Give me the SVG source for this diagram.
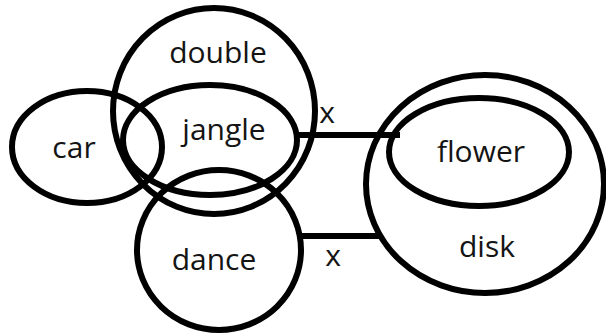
<svg xmlns="http://www.w3.org/2000/svg" width="606" height="333" viewBox="0 0 606 333">
<style>
.n{fill:none;stroke:#000;stroke-width:6}
.t{font-family:"Open Sans","Liberation Sans",sans-serif;font-size:30px;fill:#141414;text-anchor:middle}
.c{stroke:#000;stroke-width:6;fill:none}
</style>
<rect width="606" height="333" fill="#fff"/>
<g id="connectors">
<line class="c" x1="296" y1="135" x2="400" y2="135"/>
<line class="c" x1="300" y1="236" x2="382" y2="236"/>
<text class="t" x="327" y="123">x</text>
<text class="t" x="333" y="266">x</text>
</g>
<g id="double"><ellipse class="n" cx="214" cy="111" rx="101" ry="103"/><text class="t" x="218" y="63">double</text></g>
<g id="jangle"><ellipse class="n" cx="210" cy="140" rx="87" ry="55"/><text class="t" x="224" y="140">jangle</text></g>
<g id="car"><ellipse class="n" cx="87" cy="147" rx="75" ry="56"/><text class="t" x="74" y="158">car</text></g>
<g id="dance"><ellipse class="n" cx="219" cy="250" rx="82" ry="80"/><text class="t" x="214" y="270">dance</text></g>
<g id="disk"><ellipse class="n" cx="485" cy="184" rx="119" ry="109"/><text class="t" x="487" y="257">disk</text></g>
<g id="flower"><ellipse class="n" cx="479" cy="152" rx="90" ry="54"/><text class="t" x="481" y="162">flower</text></g>
</svg>
